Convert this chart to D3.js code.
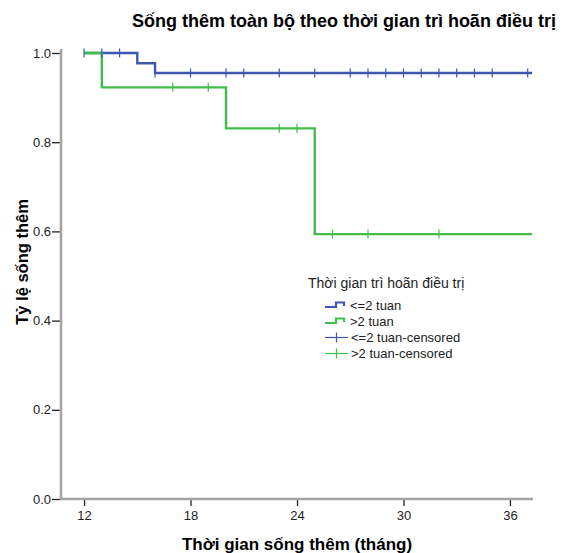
<html>
<head>
  <meta charset="UTF-8">
  <script src="https://d3js.org/d3.v7.min.js"></script>
  <style>
    body { margin: 0; background: #fff; }
    text { font-family: "Liberation Sans", Arial, sans-serif; }
  </style>
</head>
<body>
  <svg id="chart" width="568" height="553"></svg>
  <script>
    /* Data */
    const groupNames = ["<=2 tuan", ">2 tuan"];
    const censoredNames = ["<=2 tuan-censored", ">2 tuan-censored"];

    // <=2 tuan: step times and survival after each step
    const shortTimes = [12, 15, 16];
    const shortSurv = [1.0, 0.977, 0.955];
    const shortEnd = 37.25;
    const shortCensored = [12, 13, 14, 16, 18, 20, 21, 23, 25, 27, 28, 29, 30, 31, 32, 33, 34, 35, 37];

    // >2 tuan
    const longTimes = [12, 13, 20, 25];
    const longSurv = [1.0, 0.923, 0.831, 0.594];
    const longEnd = 37.25;
    const longCensored = [17, 19, 23, 24, 26, 28, 32];

    const xTicks = [12, 18, 24, 30, 36];
    const yTicks = [0, 0.2, 0.4, 0.6, 0.8, 1.0];

    const blue = "#3d58ae";
    const green = "#3fbf4a";

    /* Layout */
    const svg = d3.select("#chart");
    const x = d3.scaleLinear().domain([10.7, 37.3]).range([61, 533]);
    const y = d3.scaleLinear().domain([0, 1]).range([499, 53]);

    // title
    svg.append("text")
      .attr("x", 344).attr("y", 27)
      .attr("text-anchor", "middle")
      .attr("font-size", 18).attr("font-weight", "bold")
      .text("Sống thêm toàn bộ theo thời gian trì hoãn điều trị");

    // axes
    const leftAxis = d3.axisLeft(y).tickValues(yTicks).tickFormat(d3.format(".1f")).tickSize(9).tickSizeOuter(0);
    const gy = svg.append("g").attr("transform", "translate(61,0)").call(leftAxis);
    gy.select(".domain").remove();
    gy.selectAll(".tick line").attr("stroke", "#222").attr("stroke-width", 1.3);
    gy.selectAll(".tick text").attr("font-size", 13).attr("fill", "#222").attr("x", -10)
      .style("font-family", "Liberation Sans, Arial, sans-serif");

    const bottomAxis = d3.axisBottom(x).tickValues(xTicks).tickSize(6).tickSizeOuter(0);
    const gx = svg.append("g").attr("transform", "translate(0,500)").call(bottomAxis);
    gx.select(".domain").remove();
    gx.selectAll(".tick line").attr("stroke", "#222").attr("stroke-width", 1.3);
    gx.selectAll(".tick text").attr("font-size", 13).attr("fill", "#222").attr("dy", "0.85em")
      .style("font-family", "Liberation Sans, Arial, sans-serif");

    svg.append("line")
      .attr("x1", 61).attr("x2", 61).attr("y1", y(1.009)).attr("y2", y(0) + 1)
      .attr("stroke", "#a4a4a4").attr("stroke-width", 2.6);
    svg.append("line")
      .attr("x1", 60).attr("x2", 533).attr("y1", y(0)).attr("y2", y(0))
      .attr("stroke", "#a4a4a4").attr("stroke-width", 2.6);

    // axis titles
    svg.append("text")
      .attr("x", 297).attr("y", 550)
      .attr("text-anchor", "middle")
      .attr("font-size", 17).attr("font-weight", "bold")
      .text("Thời gian sống thêm (tháng)");
    svg.append("text")
      .attr("transform", "translate(28,262) rotate(-90)")
      .attr("text-anchor", "middle")
      .attr("font-size", 16.5).attr("font-weight", "bold")
      .text("Tỷ lệ sống thêm");

    /* Curves */
    function stepPoints(times, surv, end) {
      const pts = times.map((t, i) => [t, surv[i]]);
      pts.push([end, surv[surv.length - 1]]);
      return pts;
    }
    function survAt(times, surv, t) {
      let s = surv[0];
      times.forEach((tt, i) => { if (tt <= t) s = surv[i]; });
      return s;
    }
    const line = d3.line().x(d => x(d[0])).y(d => y(d[1])).curve(d3.curveStepAfter);

    const curves = [
      { times: shortTimes, surv: shortSurv, end: shortEnd, censored: shortCensored, color: blue },
      { times: longTimes, surv: longSurv, end: longEnd, censored: longCensored, color: green }
    ];

    curves.forEach(c => {
      svg.append("path")
        .attr("d", line(stepPoints(c.times, c.surv, c.end)))
        .attr("fill", "none")
        .attr("stroke", c.color)
        .attr("stroke-width", 2.4)
        .attr("stroke-linejoin", "miter");
    });

    curves.forEach(c => {
      c.censored.forEach(t => {
        const cy = y(survAt(c.times, c.surv, t));
        svg.append("line")
          .attr("x1", x(t)).attr("x2", x(t))
          .attr("y1", cy - 4.5).attr("y2", cy + 4.5)
          .attr("stroke", c.color).attr("stroke-width", 1.2);
      });
    });

    /* Legend */
    const legend = svg.append("g");
    legend.append("text")
      .attr("x", 308).attr("y", 288)
      .attr("font-size", 14).attr("fill", "#222")
      .text("Thời gian trì hoãn điều trị");

    const rowY = [305.5, 321.5, 337.5, 353.5];
    [blue, green].forEach((col, i) => {
      const ry = rowY[i];
      legend.append("path")
        .attr("d", `M325,${ry + 1.5}H336V${ry - 3}H344V${ry + 0.5}`)
        .attr("fill", "none").attr("stroke", col).attr("stroke-width", 2.2);
      legend.append("text")
        .attr("x", 350).attr("y", ry + 4.5)
        .attr("font-size", 13).attr("fill", "#222")
        .text(groupNames[i]);
    });
    [blue, green].forEach((col, i) => {
      const ry = rowY[i + 2];
      legend.append("line")
        .attr("x1", 325).attr("x2", 348).attr("y1", ry).attr("y2", ry)
        .attr("stroke", col).attr("stroke-width", 1.2);
      legend.append("line")
        .attr("x1", 336.5).attr("x2", 336.5).attr("y1", ry - 5).attr("y2", ry + 5)
        .attr("stroke", col).attr("stroke-width", 1.2);
      legend.append("text")
        .attr("x", 351).attr("y", ry + 4.5)
        .attr("font-size", 13).attr("fill", "#222")
        .text(censoredNames[i]);
    });
  </script>
</body>
</html>
